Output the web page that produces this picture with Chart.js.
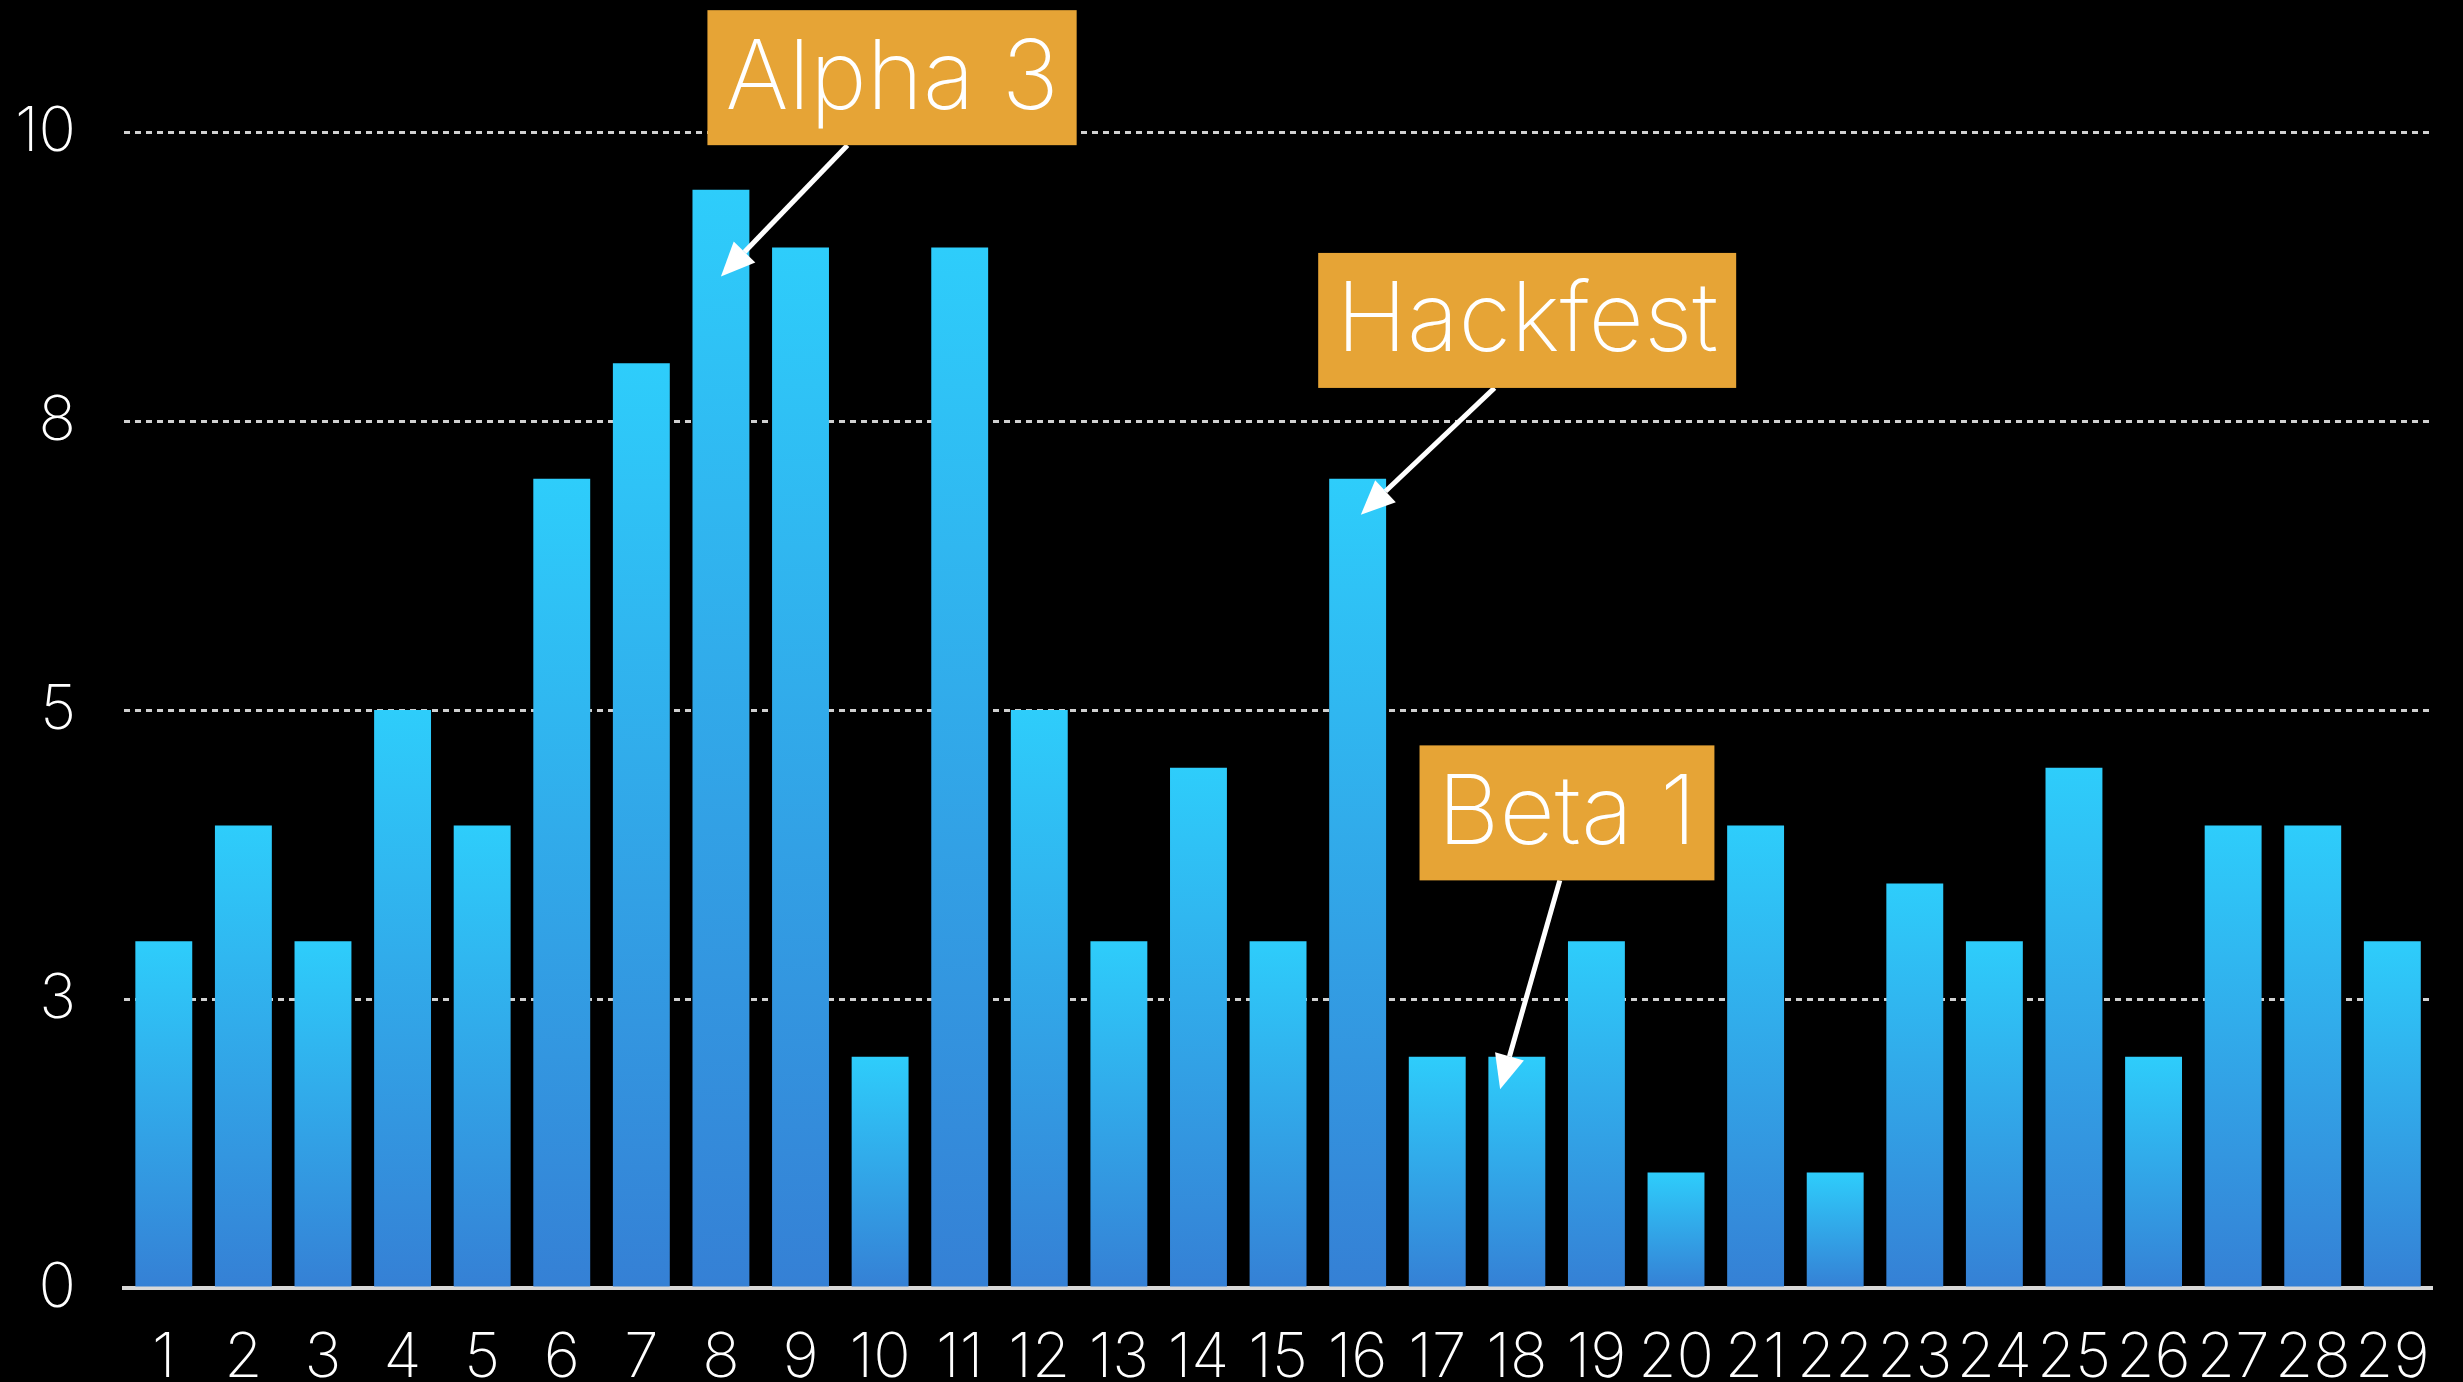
<!DOCTYPE html>
<html>
<head>
<meta charset="utf-8">
<script src="https://cdn.jsdelivr.net/npm/chart.js@4"></script>
<style>
  html, body { margin: 0; padding: 0; background: #000; }
  #wrap { width: 2463px; height: 1382px; position: relative; }
</style>
</head>
<body>
<div id="wrap"><canvas id="commitChart"></canvas></div>
<script>
// Days along the bottom
const days = ['1', '2', '3', '4', '5', '6', '7', '8', '9', '10', '11', '12', '13', '14', '15',
    '16', '17', '18', '19', '20', '21', '22', '23', '24', '25', '26', '27', '28', '29'];

// Bar heights
const values = [3, 4, 3, 5, 4, 7, 8, 9.5, 9, 2, 9, 5, 3, 4.5, 3, 7, 2, 2, 3, 1, 4, 1, 3.5, 3, 4.5, 2, 4, 4, 3];

// y axis ticks (every 2.5, shown rounded)
const yMin = 0;
const yMax = 10;
const yStep = 2.5;

// Callouts: label, box centre (category index, value), arrow tail x, arrow tip (index, value)
const calloutLabels = ['Alpha 3', 'Hackfest', 'Beta 1'];
const calloutBox = [[9.15, 10.47], [17.13, 8.37], [17.63, 4.11]];
const calloutTailX = [8.59, 16.72, 17.54];
const calloutTip = [[7.0, 8.75], [15.04, 6.69], [16.79, 1.72]];

document.addEventListener('DOMContentLoaded', function () {
    const FONT = 'Inter, "Helvetica Neue", "Liberation Sans", sans-serif';

    // gradient for each bar, from its own top down to the base
    function barGradient(context) {
        const chart = context.chart;
        if (!chart.chartArea) return '#2fc9f8';
        const y = chart.scales.y;
        const top = y.getPixelForValue(context.raw);
        const bottom = y.getPixelForValue(0);
        const g = chart.ctx.createLinearGradient(0, top, 0, bottom);
        g.addColorStop(0, '#2ecdfb');
        g.addColorStop(1, '#3580d5');
        return g;
    }

    // draws the orange boxes and arrows
    const calloutPlugin = {
        id: 'callouts',
        afterDatasetsDraw(chart) {
            const ctx = chart.ctx;
            const xs = chart.scales.x;
            const ys = chart.scales.y;
            ctx.save();
            ctx.font = '200 96px ' + FONT;
            calloutLabels.forEach((label, i) => {
                const cx = xs.getPixelForValue(calloutBox[i][0]);
                const cy = ys.getPixelForValue(calloutBox[i][1]);
                const w = ctx.measureText(label).width + 36;
                const h = 135;
                const bottom = cy + h / 2;

                // arrow
                const x1 = xs.getPixelForValue(calloutTailX[i]);
                const y1 = bottom;
                const x2 = xs.getPixelForValue(calloutTip[i][0]);
                const y2 = ys.getPixelForValue(calloutTip[i][1]);
                const ang = Math.atan2(y2 - y1, x2 - x1);
                const headLen = 34, headW = 15;
                const bx = x2 - headLen * Math.cos(ang);
                const by = y2 - headLen * Math.sin(ang);
                ctx.strokeStyle = '#fff';
                ctx.fillStyle = '#fff';
                ctx.lineWidth = 5;
                ctx.beginPath();
                ctx.moveTo(x1, y1);
                ctx.lineTo(bx, by);
                ctx.stroke();
                ctx.beginPath();
                ctx.moveTo(x2, y2);
                ctx.lineTo(bx + headW * Math.sin(ang), by - headW * Math.cos(ang));
                ctx.lineTo(bx - headW * Math.sin(ang), by + headW * Math.cos(ang));
                ctx.closePath();
                ctx.fill();

                // box + text
                ctx.fillStyle = '#e6a436';
                ctx.fillRect(cx - w / 2, cy - h / 2, w, h);
                ctx.fillStyle = '#fff';
                ctx.textAlign = 'center';
                ctx.textBaseline = 'middle';
                ctx.fillText(label, cx, cy + 2);
            });
            ctx.restore();
        }
    };

    const ctx = document.getElementById('commitChart').getContext('2d');

    new Chart(ctx, {
        type: 'bar',
        data: {
            labels: days,
            datasets: [{
                data: values,
                backgroundColor: barGradient,
                barPercentage: 0.715,
                categoryPercentage: 1.0,
            }],
        },
        options: {
            responsive: true,
            maintainAspectRatio: false,
            animation: false,
            layout: { padding: { top: 132, right: 27, bottom: 0, left: 0 } },
            plugins: {
                legend: { display: false },
                tooltip: { enabled: false },
            },
            scales: {
                x: {
                    grid: { display: false, drawTicks: false },
                    border: { display: true, color: '#d8d8d8', width: 4 },
                    ticks: {
                        color: '#fff',
                        padding: 33,
                        maxRotation: 0,
                        autoSkip: false,
                        font: { family: FONT, size: 62, weight: '200' },
                    },
                    afterFit: scale => { scale.height = 94; },
                },
                y: {
                    min: yMin,
                    max: yMax,
                    grid: {
                        drawTicks: false,
                        lineWidth: 3,
                        color: c => (c.tick && c.tick.value === 0 ? 'rgba(0,0,0,0)' : '#d0d0d0'),
                    },
                    border: { display: false, dash: [6, 5] },
                    ticks: {
                        stepSize: yStep,
                        color: '#fff',
                        padding: 48,
                        font: { family: FONT, size: 62, weight: '200' },
                        callback: v => Math.round(v),
                    },
                    afterFit: scale => { scale.width = 124; },
                },
            },
        },
        plugins: [calloutPlugin],
    });
});
</script>
</body>
</html>
